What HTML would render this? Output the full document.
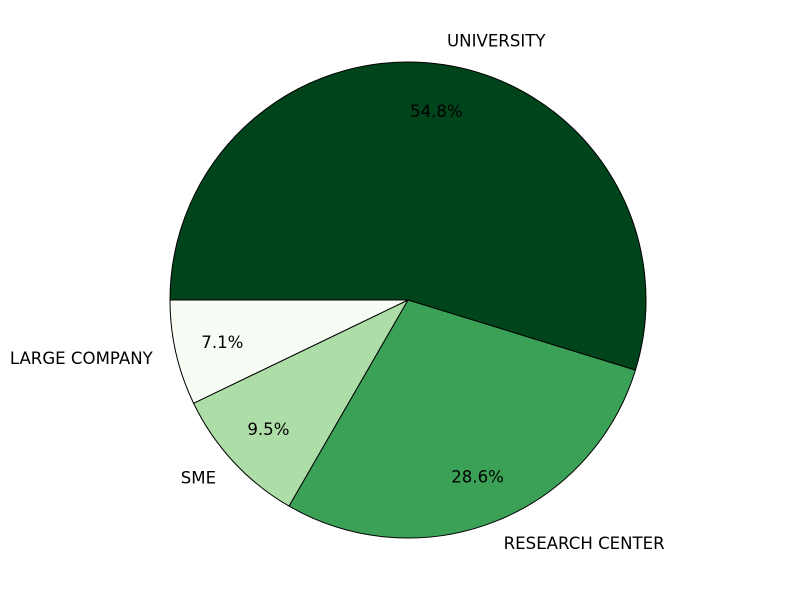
<!DOCTYPE html>
<html><head><meta charset="utf-8"><style>
body{margin:0;background:#fff;}
svg text{font-family:"DejaVu Sans","Liberation Sans",sans-serif;font-size:16.6px;fill:#000;}
</style></head><body>
<svg id="chart" width="800" height="600"></svg>
<script>
const categories=["UNIVERSITY","RESEARCH CENTER","SME","LARGE COMPANY"];
const values=[23,12,4,3];
const colors=["#00441b","#3aa157","#aedea7","#f7fcf5"];
const svg=document.getElementById('chart');
const NS="http://www.w3.org/2000/svg";
const cx=408,cy=300,R=238;
const total=values.reduce((a,b)=>a+b,0);
function pt(deg,r){const a=deg*Math.PI/180;return [cx+r*Math.cos(a),cy-r*Math.sin(a)];}
let start=180;
values.forEach((v,i)=>{
  const sweep=v/total*360;
  const end=start-sweep;
  const p1=pt(start,R),p2=pt(end,R);
  const large=sweep>180?1:0;
  const path=document.createElementNS(NS,'path');
  path.setAttribute('d',`M${cx},${cy} L${p1[0]},${p1[1]} A${R},${R} 0 ${large} 1 ${p2[0]},${p2[1]} Z`);
  path.setAttribute('fill',colors[i]);
  path.setAttribute('stroke','#000');
  path.setAttribute('stroke-width','1');
  
  
  svg.appendChild(path);
  const mid=(start+end)/2;
  const lp=pt(mid,R*1.1);
  const t=document.createElementNS(NS,'text');
  t.setAttribute('x',lp[0]);t.setAttribute('y',lp[1]);
  t.setAttribute('text-anchor',Math.cos(mid*Math.PI/180)>=0?'start':'end');
  t.setAttribute('dominant-baseline','central');
  t.textContent=categories[i];
  
  
  svg.appendChild(t);
  const pp=pt(mid,R*0.8);
  const tp=document.createElementNS(NS,'text');
  tp.setAttribute('x',pp[0]);tp.setAttribute('y',pp[1]);
  tp.setAttribute('text-anchor','middle');
  tp.setAttribute('dominant-baseline','central');
  tp.textContent=(v/total*100).toFixed(1)+'%';
  
  
  svg.appendChild(tp);
  start=end;
});
</script>
</body></html>
